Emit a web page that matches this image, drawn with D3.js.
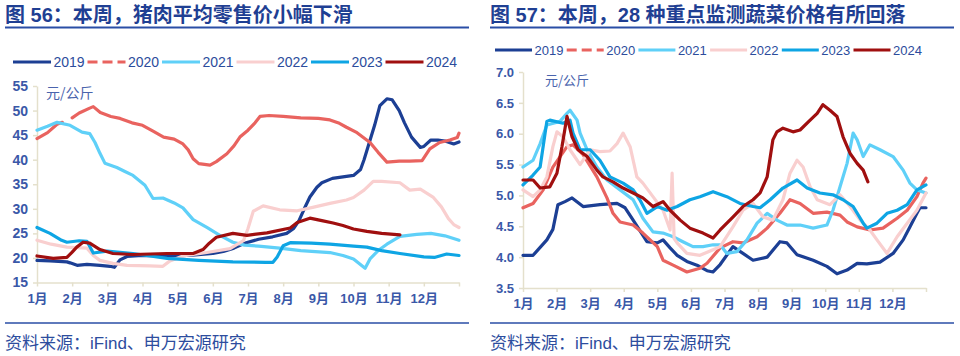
<!DOCTYPE html>
<html><head><meta charset="utf-8">
<script src="https://cdn.jsdelivr.net/npm/d3@7"></script>
<style>
body{margin:0;background:#fff;}
svg{display:block;font-family:"Liberation Sans",Arial,"Noto Sans CJK SC",sans-serif;}
</style></head><body>
<svg id="c" width="960" height="356"></svg>
<script>
const years = ["2019","2020","2021","2022","2023","2024"];
const colors = ["#1c3f94","#e9635f","#5fd0f8","#f9cfcf","#0ea5e4","#a00f0f"];
const monthLabels = ["1月","2月","3月","4月","5月","6月","7月","8月","9月","10月","11月","12月"];
const porkTicks = [15,20,25,30,35,40,45,50,55];
const vegTicks = [3.5,4.0,4.5,5.0,5.5,6.0,6.5,7.0];

// [month position (0 = 1 Jan, 12 = end of year), price]
const pork2019 = [[0,19.5],[0.37,19.4],[0.85,19.2],[0.94,19.0],[1.14,18.5],[1.42,18.7],[1.79,18.5],[2.08,18.3],[2.2,18.1],[2.36,19.6],[2.56,20.3],[3,20.5],[4,20.4],[4.5,20.6],[5,20.9],[5.3,21.3],[5.6,22],[5.9,23],[6.3,23.8],[6.7,24.3],[7.1,25],[7.3,26],[7.45,27.6],[7.6,30],[7.76,32.4],[7.96,34.4],[8.1,35.3],[8.4,36.2],[8.8,36.6],[9.0,36.8],[9.2,38],[9.3,40],[9.45,43.5],[9.6,47],[9.75,51],[9.95,52.4],[10.1,52.2],[10.3,50],[10.45,47.5],[10.65,44.6],[10.9,42.5],[11.0,42.7],[11.2,44],[11.4,44],[11.6,43.8],[11.85,43.2],[12,43.6]];
const pork2020 = [[0,44.3],[0.3,45.5],[0.57,47.2],[0.72,47.6],[0.86,null],[1.0,48.5],[1.2,49.5],[1.5,50.5],[1.6,50.8],[1.8,49.6],[2.1,48.8],[2.36,48.4],[2.7,47.5],[3.0,47],[3.3,45.8],[3.6,44.6],[3.9,44.2],[4.15,43.2],[4.3,42],[4.44,40.2],[4.6,39.2],[4.92,38.9],[5.1,39.6],[5.4,41.2],[5.6,42.8],[5.77,44.6],[6.0,46],[6.2,47.5],[6.34,48.8],[6.6,49],[7.0,48.8],[7.5,48.5],[8.0,48.4],[8.33,48.1],[8.6,47.4],[8.8,46.6],[9.1,45.5],[9.47,43.5],[9.7,41.5],[9.95,39.5],[10.3,39.7],[10.6,39.7],[10.95,39.8],[11.17,42.2],[11.45,43.5],[11.74,44],[11.95,44.5],[12,45.4]];
const pork2021 = [[0,46],[0.3,46.8],[0.57,47.6],[0.94,47],[1.28,45.6],[1.5,45.3],[1.65,43.5],[1.79,41.3],[1.93,39.3],[2.27,38.4],[2.5,37.6],[2.73,36.8],[3.07,34.8],[3.3,32.1],[3.58,32.2],[3.9,31.2],[4.15,30.2],[4.44,27.8],[4.83,26.2],[5.2,24.6],[5.57,23.2],[5.9,22.6],[6.3,22.4],[6.9,22],[7.5,21.5],[8.33,21.1],[8.7,20.5],[9.0,19.8],[9.33,17.9],[9.47,19.8],[9.7,21.5],[9.95,22.8],[10.32,24.4],[10.8,24.8],[11.2,25],[11.6,24.5],[12,23.6]];
const pork2022 = [[0,23.6],[0.4,22.8],[0.85,22.2],[1.42,22.0],[1.6,20.5],[1.79,19.5],[2.16,18.9],[2.56,18.5],[3.2,18.4],[3.58,18.3],[3.78,19.4],[4.15,20.4],[4.83,21.1],[5.49,21.9],[5.87,23.5],[6.0,26],[6.15,29.5],[6.43,30.6],[6.9,29.8],[7.4,29.6],[7.84,30.3],[8.33,31.1],[8.8,31.8],[9.0,32.3],[9.3,33.8],[9.56,35.6],[9.8,35.6],[10.32,35.3],[10.6,33.8],[10.9,34],[11.26,32.4],[11.5,30.4],[11.7,28],[11.85,26.8],[12,26.2]];
const pork2023 = [[0,26.2],[0.37,25],[0.7,23.6],[0.85,23.2],[1.2,23.5],[1.42,23.4],[1.6,21],[1.99,21.4],[2.73,20.9],[3.7,19.9],[4.6,19.5],[5.57,19.2],[6.5,19.1],[6.71,19.1],[6.83,20.2],[7.0,22.5],[7.2,23.1],[7.8,23],[8.33,22.8],[9.0,22.4],[9.38,22.2],[9.8,21.5],[10.32,20.9],[11.0,20.2],[11.3,20.1],[11.65,20.8],[12,20.5]];
const pork2024 = [[0,20.4],[0.46,19.9],[0.85,20.1],[1.0,21.2],[1.13,22.2],[1.31,23.2],[1.5,23],[1.79,21.7],[2.16,20.9],[2.73,20.7],[3.7,20.9],[4.44,20.9],[4.72,21.7],[4.9,23],[5.1,24.2],[5.57,25],[5.97,24.6],[6.54,25.1],[7.2,26.1],[7.4,27.2],[7.76,28.1],[8.1,27.6],[8.42,27.1],[8.7,26.6],[9.0,25.9],[9.38,25.4],[9.8,25],[10.32,24.7]];

const veg2019 = [[0,4.03],[0.3,4.03],[0.71,4.28],[0.89,4.45],[1.04,4.85],[1.25,4.9],[1.46,4.96],[1.79,4.82],[2.29,4.85],[2.8,4.87],[3.04,4.8],[3.28,4.6],[3.69,4.25],[4.0,4.23],[4.17,4.28],[4.38,4.15],[4.59,4.03],[4.88,3.93],[5.18,3.87],[5.48,3.78],[5.66,3.76],[5.87,3.88],[6.25,4.17],[6.55,4.06],[6.85,3.95],[7.27,4.0],[7.65,4.25],[7.86,4.23],[8.16,4.04],[8.64,3.95],[9.05,3.85],[9.35,3.73],[9.65,3.79],[9.95,3.9],[10.24,3.89],[10.63,3.92],[11.02,4.06],[11.32,4.28],[11.52,4.49],[11.73,4.71],[11.82,4.8],[12,4.8]];
const veg2020 = [[0,4.8],[0.3,4.87],[0.6,5.09],[0.89,5.46],[1.31,5.79],[1.49,5.82],[1.79,5.66],[2.2,5.3],[2.5,4.96],[2.68,4.71],[2.89,4.57],[3.28,4.52],[3.57,4.39],[4.0,4.17],[4.17,3.95],[4.47,3.87],[4.88,3.76],[5.27,3.82],[5.48,3.9],[5.87,4.15],[6.25,4.25],[6.55,4.23],[6.97,4.33],[7.27,4.47],[7.65,4.71],[7.95,4.93],[8.25,4.87],[8.64,4.71],[9.05,4.73],[9.44,4.68],[9.65,4.57],[9.95,4.49],[10.33,4.44],[10.72,4.47],[11.14,4.63],[11.44,4.76],[11.73,4.98],[11.91,5.2],[12,5.28]];
const veg2021 = [[0,5.46],[0.3,5.57],[0.51,5.84],[0.71,6.14],[1.1,6.2],[1.31,6.33],[1.4,6.38],[1.61,6.22],[1.7,6.01],[1.91,5.74],[2.2,5.46],[2.5,5.25],[2.89,5.09],[3.28,4.93],[3.57,4.63],[3.87,4.41],[4.17,4.39],[4.47,4.33],[4.76,4.25],[5.06,4.17],[5.36,4.17],[5.66,4.2],[5.87,4.2],[6.07,4.06],[6.37,4.09],[6.67,4.28],[6.97,4.55],[7.27,4.71],[7.56,4.6],[7.86,4.52],[8.25,4.52],[8.64,4.47],[9.05,4.52],[9.23,4.76],[9.44,5.14],[9.65,5.52],[9.83,6.01],[9.95,5.9],[10.13,5.63],[10.33,5.82],[10.63,5.74],[11.02,5.63],[11.32,5.41],[11.52,5.2],[11.73,5.09],[12,5.04]];
const veg2022 = [[0,5.09],[0.3,4.98],[0.51,5.09],[0.71,5.3],[0.89,5.79],[1.01,6.03],[1.19,5.95],[1.4,5.74],[1.7,5.5],[2.0,5.74],[2.29,5.71],[2.59,5.72],[2.8,5.84],[2.98,6.01],[3.19,5.79],[3.39,5.3],[3.57,5.2],[3.87,4.98],[4.17,4.76],[4.38,4.44],[4.44,5.36],[4.5,4.3],[4.59,4.23],[4.88,4.06],[5.27,4.03],[5.66,4.12],[5.87,4.17],[6.25,4.49],[6.55,4.76],[6.85,4.87],[7.15,4.65],[7.44,4.6],[7.74,4.93],[7.95,5.36],[8.16,5.57],[8.34,5.46],[8.55,5.14],[8.76,4.93],[9.14,4.85],[9.44,5.01],[9.74,4.82],[10.04,4.6],[10.33,4.44],[10.54,4.28],[10.84,4.06],[11.14,4.33],[11.44,4.55],[11.73,4.76],[12,5.04]];
const veg2023 = [[0,5.17],[0.3,5.33],[0.51,5.46],[0.71,6.2],[0.8,6.22],[1.19,6.17],[1.4,6.22],[1.49,6.01],[1.7,5.74],[2.0,5.74],[2.29,5.57],[2.59,5.3],[2.98,5.2],[3.28,5.09],[3.48,4.93],[3.69,4.71],[4.0,4.82],[4.29,4.76],[4.59,4.82],[4.97,4.93],[5.27,4.98],[5.66,5.06],[6.07,4.98],[6.46,4.87],[6.85,4.82],[7.06,4.8],[7.36,4.93],[7.74,5.12],[8.16,5.25],[8.46,5.12],[8.84,5.04],[9.23,5.01],[9.53,4.93],[9.83,4.82],[10.13,4.55],[10.24,4.47],[10.54,4.55],[10.84,4.71],[11.14,4.76],[11.44,4.85],[11.73,5.09],[12,5.17]];
const veg2024 = [[0,5.25],[0.3,5.25],[0.51,5.12],[0.8,5.14],[1.01,5.36],[1.16,5.79],[1.31,6.28],[1.46,5.95],[1.64,5.74],[1.91,5.63],[2.2,5.41],[2.38,5.3],[2.68,5.22],[2.98,5.12],[3.28,5.04],[3.57,4.96],[3.87,4.82],[4.17,4.9],[4.38,4.76],[4.68,4.6],[4.97,4.47],[5.36,4.39],[5.66,4.31],[5.87,4.44],[6.25,4.65],[6.55,4.82],[6.85,4.93],[7.06,5.04],[7.27,5.3],[7.44,5.9],[7.56,6.03],[7.74,6.09],[8.04,6.03],[8.25,6.06],[8.55,6.22],[8.76,6.33],[8.93,6.47],[9.14,6.38],[9.35,6.28],[9.53,5.95],[9.74,5.68],[9.95,5.52],[10.13,5.41],[10.27,5.22]];

const svg = d3.select("#c");
const navy = "#1f3f93", textBlue = "#3a58a8", axisCol = "#e4e0cc";

function panel(o) {
  const g = svg.append("g");
  // title
  g.append("text").attr("x", o.left).attr("y", 22).attr("font-size", 20).attr("font-weight", "bold")
    .attr("fill", navy).text(o.title);
  g.append("line").attr("x1", o.left).attr("x2", o.right).attr("y1", 27.5).attr("y2", 27.5)
    .attr("stroke", "#2a4ea6").attr("stroke-width", 2);
  // footer
  g.append("line").attr("x1", o.left).attr("x2", o.right).attr("y1", 323).attr("y2", 323)
    .attr("stroke", "#2a4ea6").attr("stroke-width", 1.5);
  g.append("text").attr("x", o.left).attr("y", 349).attr("font-size", 17)
    .attr("fill", "#2d4d9e").text("资料来源：iFind、申万宏源研究");

  const x = d3.scaleLinear().domain([0, 12]).range([o.x0, o.x1]);
  const y = d3.scaleLinear().domain(o.yDomain).range([o.yBottom, o.yTop]);

  const ya = g.append("g").attr("transform", `translate(${o.x0},0)`)
    .call(d3.axisLeft(y).tickValues(o.ticks).tickSize(4).tickSizeOuter(0).tickPadding(5).tickFormat(o.fmt));
  ya.select(".domain").attr("stroke", axisCol).attr("stroke-width", 1.5);
  ya.selectAll(".tick line").attr("stroke", axisCol).attr("stroke-width", 1.5);
  ya.selectAll(".tick text").attr("font-size", o.yFont).attr("font-weight", "bold").attr("fill", textBlue)
    .attr("font-family", "'Liberation Sans', Arial, sans-serif");

  const xa = g.append("g").attr("transform", `translate(0,${o.yBottom})`)
    .call(d3.axisBottom(x).tickValues(d3.range(0, 13)).tickSize(4).tickSizeOuter(0).tickPadding(7)
      .tickFormat((d, i) => monthLabels[i] || ""));
  xa.select(".domain").attr("stroke", axisCol).attr("stroke-width", 1.5);
  xa.selectAll(".tick line").attr("stroke", axisCol).attr("stroke-width", 1.5);
  xa.selectAll(".tick text").attr("font-size", 13).attr("font-weight", "bold").attr("fill", textBlue)
    .attr("font-family", "'Liberation Sans', Arial, 'Noto Sans CJK SC', sans-serif");

  g.append("text").attr("x", o.unitX).attr("y", o.unitY).attr("font-size", o.unitFont)
    .attr("fill", "#4a64ad").attr("font-family", "'Noto Sans CJK SC', sans-serif").text("元/公斤");

  const line = d3.line().defined(d => d[1] != null).x(d => x(d[0])).y(d => y(d[1]));
  o.series.forEach((s, i) => {
    g.append("path").attr("d", line(s)).attr("fill", "none").attr("stroke", colors[i])
      .attr("stroke-width", 3.2).attr("stroke-linejoin", "round").attr("stroke-linecap", "round");
  });

  // legend
  years.forEach((yr, i) => {
    const lx = o.legX + i * o.legStep;
    g.append("line").attr("x1", lx).attr("x2", lx + o.legLine).attr("y1", o.legY).attr("y2", o.legY)
      .attr("stroke", colors[i]).attr("stroke-width", 3.2)
      .attr("stroke-dasharray", i === 1 ? "10,5" : null);
    g.append("text").attr("x", lx + o.legLine + 2.5).attr("y", o.legY).attr("dy", "0.36em")
      .attr("font-size", o.legFont).attr("fill", "#2c4c9c").text(yr);
  });
}

panel({
  left: 5, right: 469, title: "图 56：本周，猪肉平均零售价小幅下滑",
  x0: 37, x1: 459, yBottom: 282.5, yTop: 86, yDomain: [15, 55], ticks: porkTicks, fmt: d3.format("d"), yFont: 14,
  unitX: 46, unitY: 98, unitFont: 14,
  legX: 13, legStep: 74.5, legLine: 38, legY: 62, legFont: 14,
  series: [pork2019, pork2020, pork2021, pork2022, pork2023, pork2024]
});
panel({
  left: 490, right: 954, title: "图 57：本周，28 种重点监测蔬菜价格有所回落",
  x0: 523, x1: 926, yBottom: 288, yTop: 72, yDomain: [3.5, 7.0], ticks: vegTicks, fmt: d3.format(".1f"), yFont: 13,
  unitX: 545, unitY: 85, unitFont: 13,
  legX: 495, legStep: 71.7, legLine: 37, legY: 50, legFont: 13,
  series: [veg2019, veg2020, veg2021, veg2022, veg2023, veg2024]
});
</script>
</body></html>
